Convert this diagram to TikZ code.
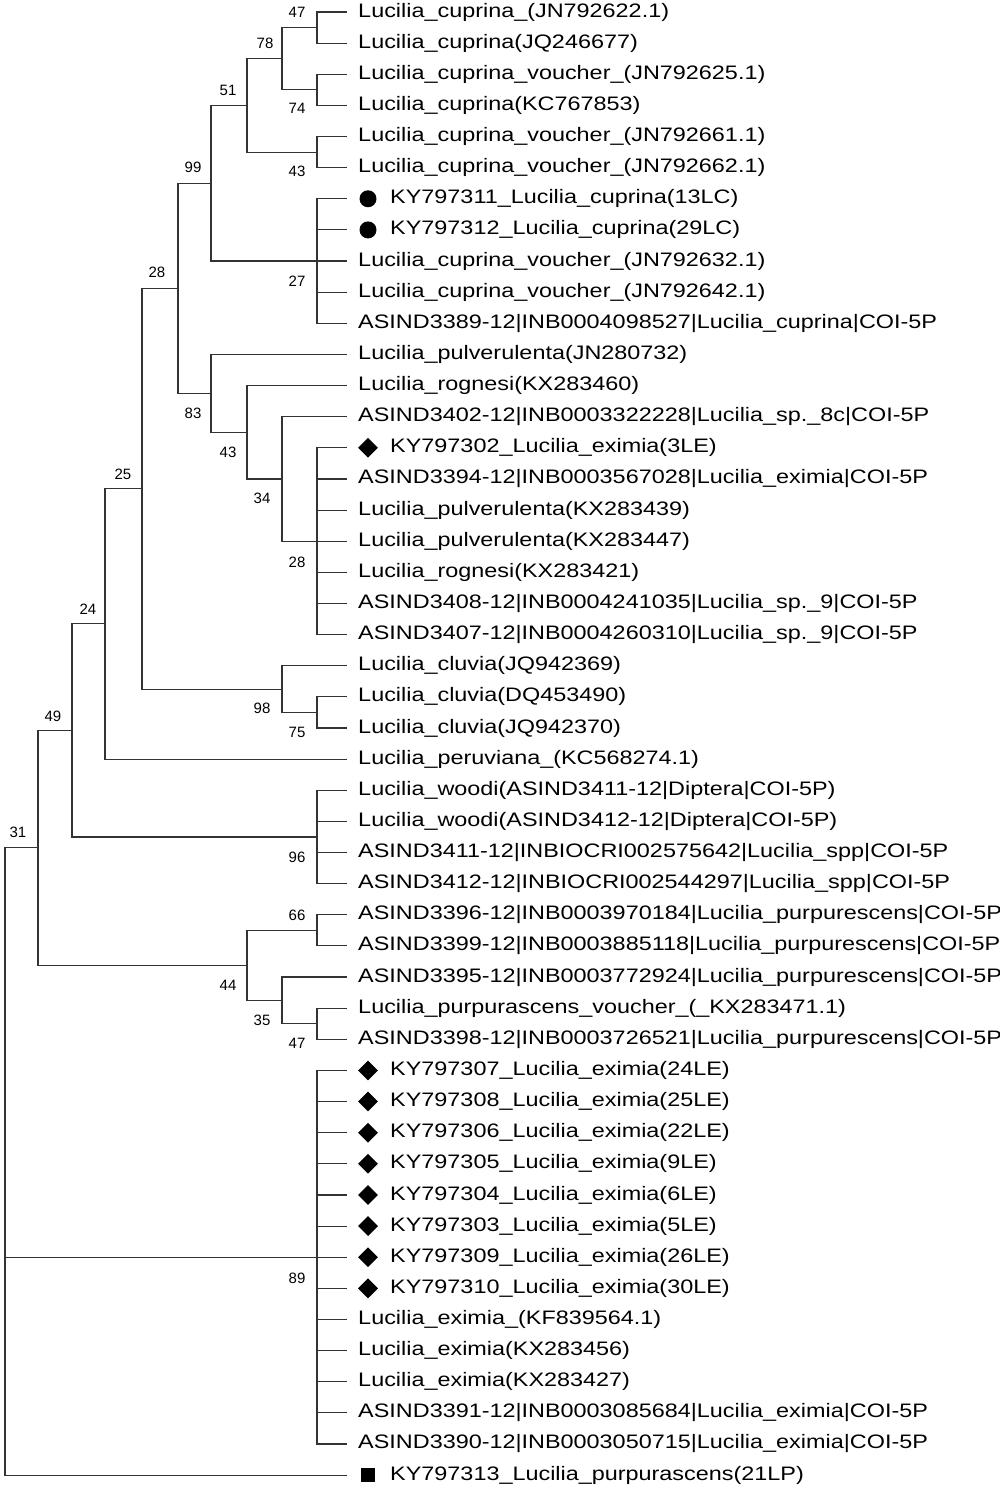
\documentclass[tikz,border=0pt]{standalone}
\usepackage{fontspec}
\setmainfont{Liberation Sans}
\usetikzlibrary{shapes.geometric}
\newcommand{\leaffont}{\fontsize{19.5}{21}\selectfont}
\newcommand{\bootfont}{\fontsize{15}{16}\selectfont}
\tikzset{
  branch/.style={line width=1.1pt, black!80},
  leaf/.style={anchor=west, inner sep=0pt, font=\leaffont, xscale=1.2},
  boot/.style={inner sep=0pt, font=\bootfont},
  mdot/.style={circle, fill=black, minimum size=17pt, inner sep=0pt},
  mdia/.style={diamond, fill=black, minimum size=20pt, inner sep=0pt},
  msq/.style={rectangle, fill=black, minimum size=14pt, inner sep=0pt},
}
\begin{document}
\begin{tikzpicture}[x=1pt,y=-1pt]
  \useasboundingbox (0,0) rectangle (1000,1493);
  % plain leaves
  \foreach \i/\t in {1/Lucilia\_cuprina\_(JN792622.1), 2/Lucilia\_cuprina(JQ246677),
      3/Lucilia\_cuprina\_voucher\_(JN792625.1), 4/Lucilia\_cuprina(KC767853),
      5/Lucilia\_cuprina\_voucher\_(JN792661.1), 6/Lucilia\_cuprina\_voucher\_(JN792662.1),
      9/Lucilia\_cuprina\_voucher\_(JN792632.1), 10/Lucilia\_cuprina\_voucher\_(JN792642.1),
      11/ASIND3389-12|INB0004098527|Lucilia\_cuprina|COI-5P, 12/Lucilia\_pulverulenta(JN280732),
      13/Lucilia\_rognesi(KX283460), 14/ASIND3402-12|INB0003322228|Lucilia\_sp.\_8c|COI-5P,
      16/ASIND3394-12|INB0003567028|Lucilia\_eximia|COI-5P, 17/Lucilia\_pulverulenta(KX283439),
      18/Lucilia\_pulverulenta(KX283447), 19/Lucilia\_rognesi(KX283421),
      20/ASIND3408-12|INB0004241035|Lucilia\_sp.\_9|COI-5P, 21/ASIND3407-12|INB0004260310|Lucilia\_sp.\_9|COI-5P,
      22/Lucilia\_cluvia(JQ942369), 23/Lucilia\_cluvia(DQ453490), 24/Lucilia\_cluvia(JQ942370),
      25/Lucilia\_peruviana\_(KC568274.1), 26/Lucilia\_woodi(ASIND3411-12|Diptera|COI-5P),
      27/Lucilia\_woodi(ASIND3412-12|Diptera|COI-5P), 28/ASIND3411-12|INBIOCRI002575642|Lucilia\_spp|COI-5P,
      29/ASIND3412-12|INBIOCRI002544297|Lucilia\_spp|COI-5P,
      30/ASIND3396-12|INB0003970184|Lucilia\_purpurescens|COI-5P,
      31/ASIND3399-12|INB0003885118|Lucilia\_purpurescens|COI-5P,
      32/ASIND3395-12|INB0003772924|Lucilia\_purpurescens|COI-5P,
      33/Lucilia\_purpurascens\_voucher\_(\_KX283471.1),
      34/ASIND3398-12|INB0003726521|Lucilia\_purpurescens|COI-5P,
      43/Lucilia\_eximia\_(KF839564.1), 44/Lucilia\_eximia(KX283456), 45/Lucilia\_eximia(KX283427),
      46/ASIND3391-12|INB0003085684|Lucilia\_eximia|COI-5P, 47/ASIND3390-12|INB0003050715|Lucilia\_eximia|COI-5P}
  {
    \coordinate (t\i) at (347,{12+31.13*(\i-1)});
    \node[leaf] (l\i) at (358,{12+31.13*(\i-1)}) {\t};
  }
  % marked leaves
  \foreach \i/\m/\t in {7/mdot/KY797311\_Lucilia\_cuprina(13LC), 8/mdot/KY797312\_Lucilia\_cuprina(29LC),
      15/mdia/KY797302\_Lucilia\_eximia(3LE), 35/mdia/KY797307\_Lucilia\_eximia(24LE),
      36/mdia/KY797308\_Lucilia\_eximia(25LE), 37/mdia/KY797306\_Lucilia\_eximia(22LE),
      38/mdia/KY797305\_Lucilia\_eximia(9LE), 39/mdia/KY797304\_Lucilia\_eximia(6LE),
      40/mdia/KY797303\_Lucilia\_eximia(5LE), 41/mdia/KY797309\_Lucilia\_eximia(26LE),
      42/mdia/KY797310\_Lucilia\_eximia(30LE), 48/msq/KY797313\_Lucilia\_purpurascens(21LP)}
  {
    \coordinate (t\i) at (347,{12+31.13*(\i-1)});
    \node[\m] (k\i) at (368,{12+31.13*(\i-1)}) {};
    \node[leaf] (l\i) at (390,{12+31.13*(\i-1)}) {\t};
  }
  % internal nodes
  \coordinate (n47) at (317,27.6);   \coordinate (n74) at (317,89.9);
  \coordinate (n78) at (282,58.7);   \coordinate (n43a) at (317,152.1);
  \coordinate (n51) at (247,105.4);  \coordinate (n27) at (317,261.0);
  \coordinate (n99) at (211,183.2);  \coordinate (n28b) at (317,541.2);
  \coordinate (n34) at (282,479.0);  \coordinate (n43b) at (247,432.3);
  \coordinate (n83) at (211,393.4);  \coordinate (n28) at (178,288.3);
  \coordinate (n75) at (317,712.4);  \coordinate (n98) at (282,689.1);
  \coordinate (n25) at (142,488.7);  \coordinate (n24) at (105,623.9);
  \coordinate (n96) at (317,837.0);  \coordinate (n49) at (72,730.4);
  \coordinate (n66) at (317,930.3);  \coordinate (n47b) at (317,1023.7);
  \coordinate (n35) at (282,1000.4); \coordinate (n44) at (247,965.3);
  \coordinate (n31) at (38,847.9);   \coordinate (n89) at (317,1257.2);
  \coordinate (root) at (5,1475);
  % branches
  \foreach \p/\c in {n47/t1, n47/t2, n74/t3, n74/t4, n78/n47, n78/n74, n43a/t5, n43a/t6,
      n51/n78, n51/n43a, n27/t7, n27/t8, n27/t9, n27/t10, n27/t11, n99/n51, n99/n27,
      n28b/t15, n28b/t16, n28b/t17, n28b/t18, n28b/t19, n28b/t20, n28b/t21,
      n34/t14, n34/n28b, n43b/t13, n43b/n34, n83/t12, n83/n43b, n28/n99, n28/n83,
      n75/t23, n75/t24, n98/t22, n98/n75, n25/n28, n25/n98, n24/n25, n24/t25,
      n96/t26, n96/t27, n96/t28, n96/t29, n49/n24, n49/n96,
      n66/t30, n66/t31, n47b/t33, n47b/t34, n35/t32, n35/n47b, n44/n66, n44/n35,
      n31/n49, n31/n44, root/n31, root/n89, root/t48}
    \draw[branch] (\p) |- (\c);
  \foreach \i in {35,...,47}
    \draw[branch] (n89) |- (t\i);
  % bootstrap values
  \foreach \v/\x/\y in {47/297/12, 78/265/43, 74/297/108, 51/228/90, 43/297/171, 99/193/167,
      27/297/281, 28/157/272, 83/193/413, 43/228/452, 34/262/498, 28/297/562, 25/123/474,
      24/88/609, 98/262/708, 75/297/732, 49/53/716, 96/297/857, 31/18/832, 66/297/915,
      44/228/985, 35/262/1020, 47/297/1043, 89/297/1278}
    \node[boot] at (\x,\y) {\v};
\end{tikzpicture}
\end{document}
